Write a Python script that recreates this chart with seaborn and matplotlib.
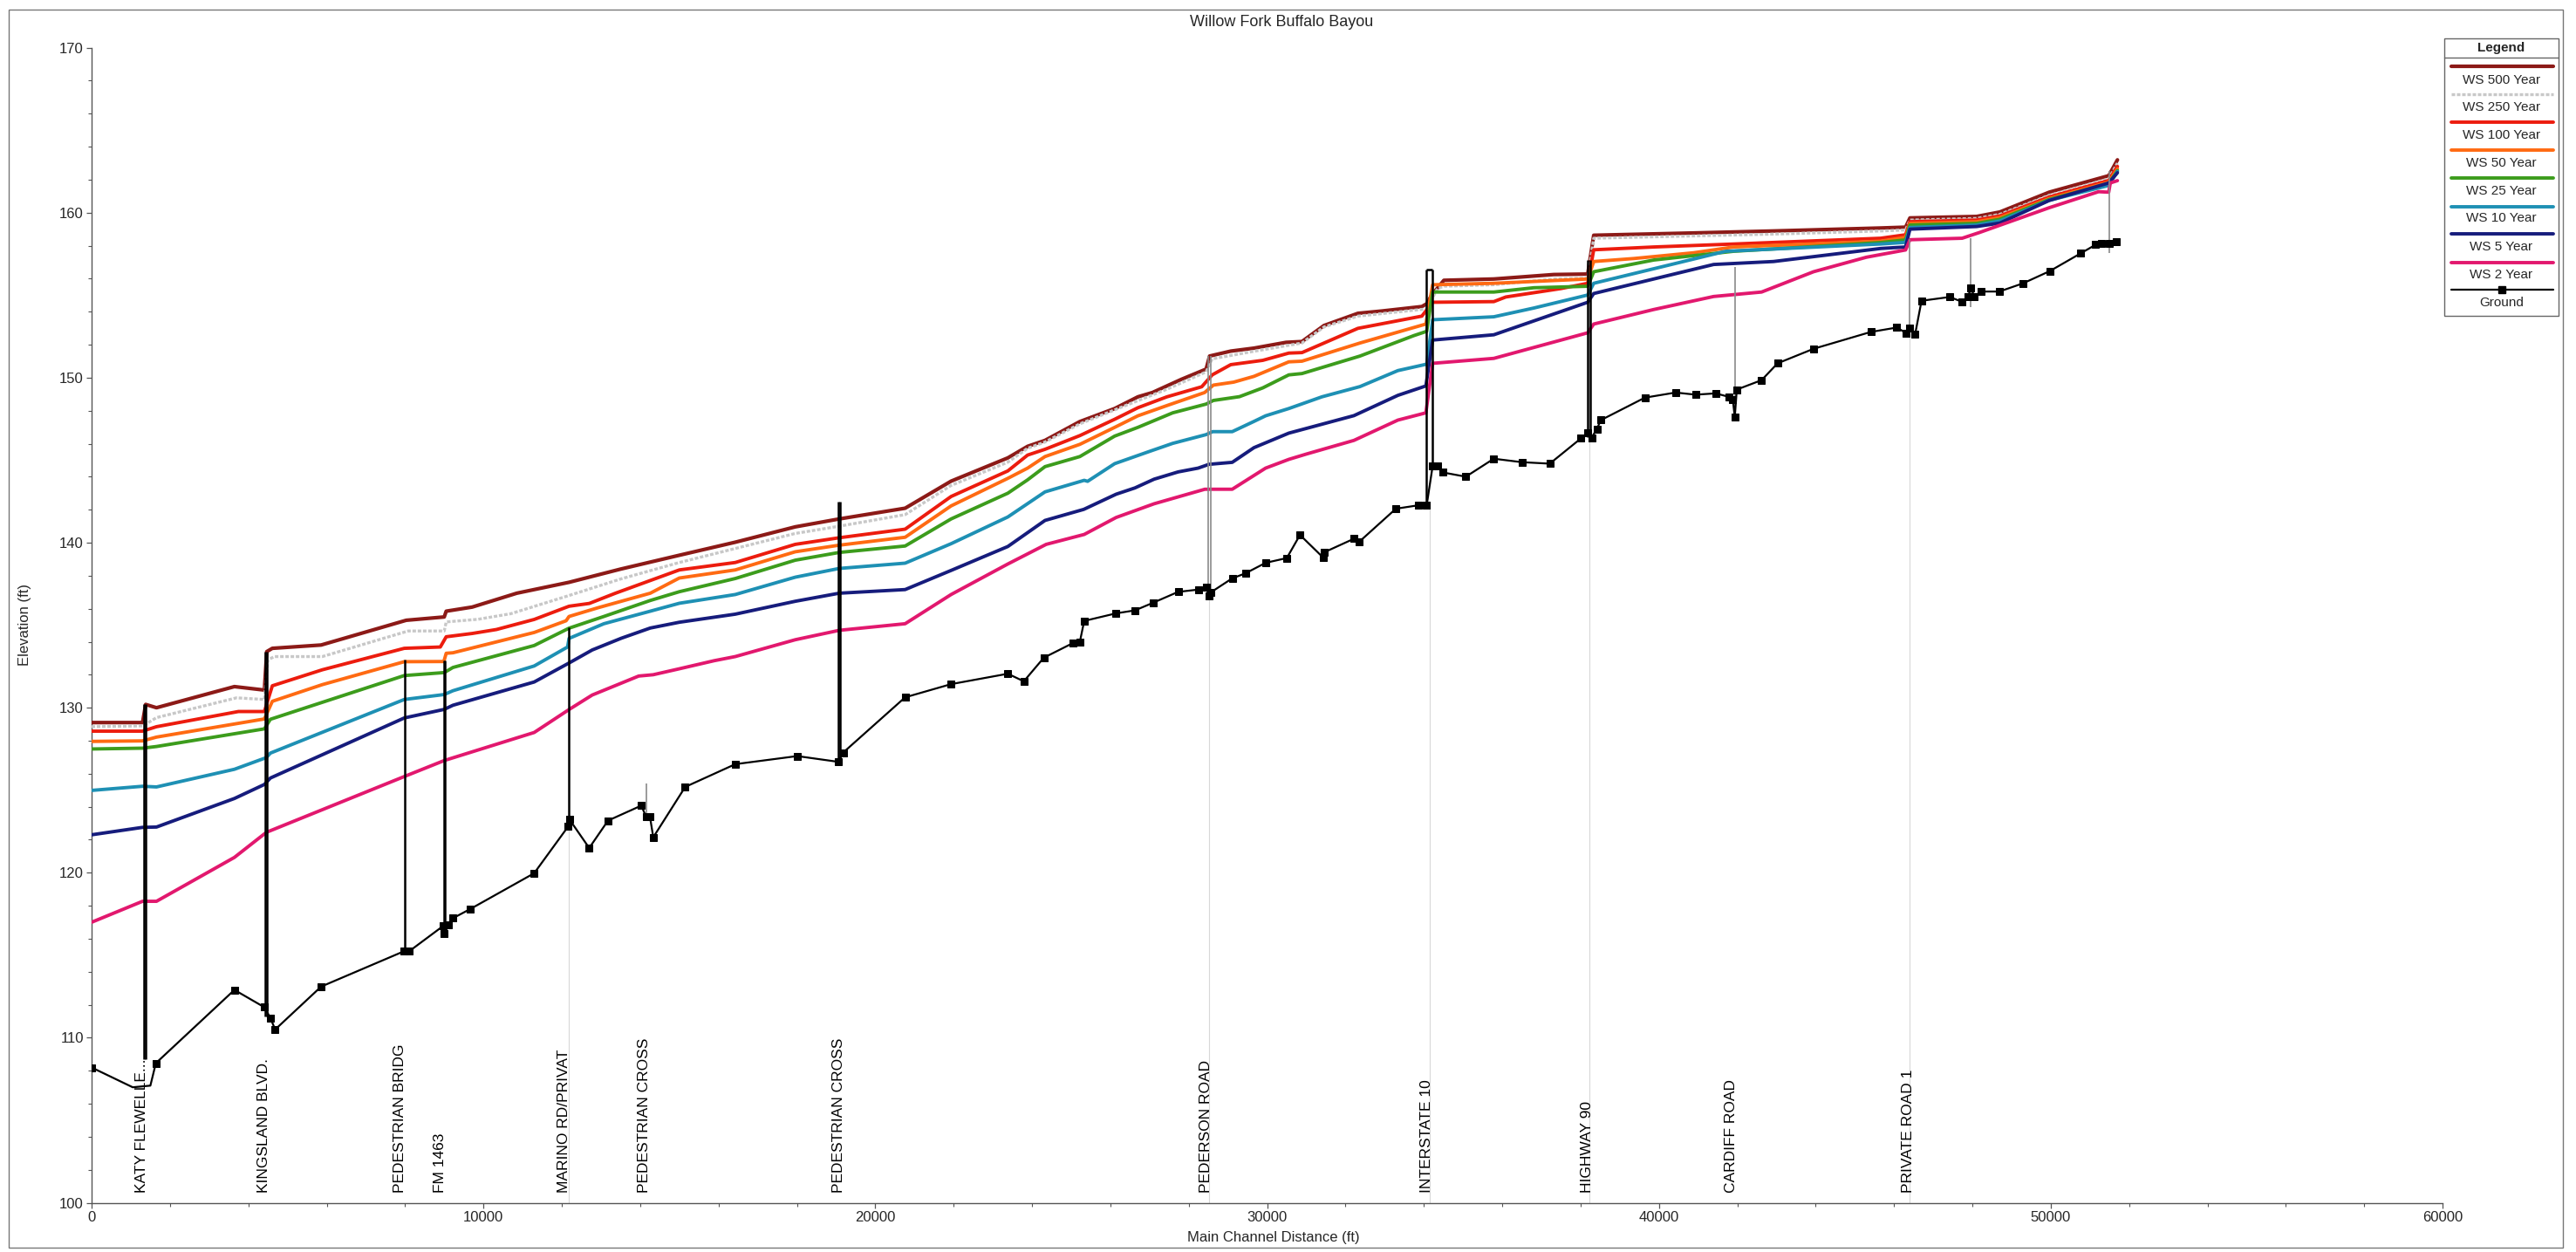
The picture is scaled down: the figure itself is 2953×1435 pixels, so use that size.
import matplotlib
matplotlib.use("Agg")
import matplotlib.pyplot as plt
import seaborn as sns
from matplotlib.lines import Line2D
from matplotlib.patches import Rectangle
from matplotlib.ticker import MultipleLocator

# ---------------- data ----------------
title = "Willow Fork Buffalo Bayou"
x_label = "Main Channel Distance (ft)"
y_label = "Elevation (ft)"

ws500_sta = [0,1300,1380,1656,3645,4410,4470,4613,5858,8030,9000,9050,9714,10852,12185,13500,15000,16428,17958,19080,20763,21936,23384,23889,24333,25222,26111,26704,27074,27814,28444,28533,29074,29666,30483,30891,31452,32319,32931,33951,34074,34200,34512,35787,37317,38184,38337,40887,42927,45660,46296,46407,48110,48703,49962,51481,51703]
ws500_elev = [129.1,129.1,130.2,130.0,131.28,131.07,133.4,133.6,133.8,135.3,135.5,135.85,136.1,136.94,137.6,138.4,139.24,140.03,140.96,141.44,142.09,143.73,145.14,145.84,146.2,147.34,148.13,148.84,149.1,149.9,150.52,151.31,151.61,151.79,152.14,152.19,153.16,153.9,154.04,154.31,154.48,155.0,155.9,155.98,156.25,156.28,158.63,158.77,158.89,159.07,159.12,159.68,159.77,160.04,161.24,162.24,163.2]

ws250_sta = [0,1300,1380,1656,3700,4410,4500,4665,5889,8080,9000,9050,9867,10703,12185,13500,15000,17958,19080,20763,21936,23384,23889,24333,25222,26333,27444,28444,28600,29666,30891,31452,32319,34074,34350,34512,35787,37317,38184,38337,42927,45660,46296,46407,48110,48703,49962,51481,51703]
ws250_elev = [128.85,128.9,129.0,129.4,130.6,130.5,132.9,133.1,133.1,134.65,134.65,135.2,135.36,135.7,136.8,137.8,138.8,140.56,141.0,141.7,143.47,144.88,145.72,146.1,147.2,148.26,149.3,150.35,151.14,151.6,152.1,153.07,153.73,154.17,155.4,155.54,155.63,155.98,156.03,158.45,158.7,158.89,158.95,159.55,159.65,159.9,161.05,162.05,163.0]

ws100_sta = [0,1300,1656,3747,4410,4613,5889,7980,8900,9050,9714,10333,11296,12185,12703,13370,15000,16428,17958,19080,20763,21936,23384,23889,24333,25222,26111,26704,27444,28333,28600,29074,29889,30555,30891,32319,33951,34226,35787,36093,37500,38184,38337,39867,41907,45660,46296,46407,48110,48703,49962,51481,51703]
ws100_elev = [128.58,128.58,128.85,129.77,129.77,131.33,132.3,133.6,133.68,134.3,134.5,134.74,135.35,136.15,136.32,136.94,138.35,138.8,139.9,140.3,140.82,142.8,144.35,145.31,145.66,146.49,147.48,148.18,148.84,149.45,150.17,150.79,151.05,151.49,151.52,152.99,153.73,154.57,154.61,154.89,155.4,155.72,157.75,157.92,158.1,158.45,158.66,159.45,159.55,159.8,160.95,161.95,162.8]

ws50_sta = [0,1300,1656,4410,4613,5889,7980,8990,9050,9222,11296,12110,12185,12926,14259,15000,16428,17958,19080,20763,21936,23384,23889,24333,25222,26111,26704,27444,28407,28630,29148,29666,30555,30891,32370,34053,34226,35787,38184,38337,39357,40887,41907,45660,46296,46407,48110,48703,49962,51481,51703]
ws50_elev = [127.96,127.99,128.22,129.32,130.39,131.4,132.79,132.8,133.3,133.33,134.56,135.27,135.53,136.06,136.94,137.86,138.35,139.45,139.85,140.33,142.23,143.9,144.52,145.22,145.96,146.99,147.69,148.31,149.1,149.55,149.73,150.08,150.96,151.0,152.1,153.25,155.63,155.72,155.98,157.04,157.22,157.57,157.92,158.27,158.5,159.35,159.45,159.7,160.85,161.85,162.65]

ws25_sta = [0,1300,1656,4410,4563,7980,9000,9222,11296,12185,13074,14259,15000,16428,17958,19080,20763,21936,23384,23889,24333,25222,26111,26704,27592,28444,28630,29296,29889,30555,30891,32370,33747,34074,34226,35787,36807,38184,38337,39867,41907,45660,46296,46407,48110,48703,49962,51481,51703]
ws25_elev = [127.5,127.55,127.65,128.72,129.3,131.95,132.13,132.44,133.77,134.82,135.53,136.5,137.03,137.83,138.94,139.41,139.8,141.44,143.0,143.81,144.61,145.22,146.46,146.99,147.87,148.4,148.62,148.85,149.38,150.17,150.25,151.31,152.55,152.81,155.19,155.19,155.45,155.54,156.42,157.13,157.66,158.19,158.35,159.25,159.35,159.6,160.8,161.75,162.55]

ws10_sta = [0,1300,1656,3645,4461,4563,7980,9000,9222,11296,12148,12185,13074,14259,15000,16428,17958,19080,20763,21936,23384,24333,25333,25420,26111,26960,27592,28444,28611,29111,29666,29963,30555,31400,32370,33339,34074,34226,35787,36807,38184,38337,39867,41703,45660,46296,46407,48110,48703,49962,51481,51703]
ws10_elev = [124.99,125.24,125.2,126.27,126.98,127.25,130.5,130.8,131.03,132.53,133.68,134.2,135.09,135.85,136.33,136.86,137.91,138.44,138.76,139.94,141.56,143.08,143.78,143.72,144.79,145.5,146.02,146.55,146.73,146.73,147.35,147.69,148.13,148.84,149.46,150.43,150.82,153.51,153.69,154.22,155.01,155.72,156.6,157.66,158.1,158.2,159.1,159.25,159.5,160.75,161.65,162.5]

ws5_sta = [0,1300,1656,3645,4410,4563,7980,9000,9222,11296,12185,12777,13518,14259,15000,16428,17958,19080,20763,21936,23384,24333,25322,26149,26628,27118,27730,28240,28518,29111,29666,30555,32217,33339,34053,34226,35787,38184,38337,39867,41397,42927,45660,46296,46407,48110,48703,49962,51481,51703]
ws5_elev = [122.3,122.75,122.77,124.5,125.35,125.74,129.38,129.9,130.15,131.56,132.71,133.5,134.21,134.83,135.18,135.67,136.45,136.94,137.16,138.32,139.77,141.35,142.02,142.94,143.32,143.85,144.29,144.52,144.75,144.87,145.76,146.64,147.7,148.93,149.5,152.28,152.6,154.57,155.1,155.98,156.86,157.04,157.83,157.92,159.0,159.16,159.37,160.74,161.8,162.42]

ws2_sta = [0,1300,1656,3645,4461,7980,9000,11296,12185,12777,13963,14333,15000,15889,16428,17958,19080,20763,21936,23384,24363,25333,26149,27118,28413,29111,29963,30555,31000,32217,33339,34053,34226,35787,38184,38337,39867,41397,42621,43947,45296,46296,46407,47740,48185,49962,51222,51481,51520,51703]
ws2_elev = [117.0,118.27,118.27,120.93,122.45,125.83,126.8,128.5,129.89,130.77,131.92,132.0,132.36,132.85,133.1,134.12,134.69,135.09,136.86,138.71,139.9,140.5,141.53,142.36,143.24,143.24,144.52,145.05,145.37,146.2,147.43,147.87,150.87,151.17,152.72,153.25,154.13,154.92,155.19,156.42,157.3,157.74,158.36,158.45,158.8,160.3,161.27,161.24,161.8,161.94]

ground_sta = [0,1050,1500,1640,3645,4410,4563,4685,5858,7980,8110,8970,8990,9100,9225,9663,11295,12162,12190,12700,13180,14030,14150,14250,14335,15150,16428,18009,19060,19180,20763,21936,23384,23792,24302,25047,25222,25333,26148,26630,27100,27730,28250,28444,28518,28570,29111,29444,29963,30504,30840,31432,31450,32217,32340,33288,33870,34074,34226,34359,34481,35073,35787,36501,37215,38010,38184,38286,38418,38520,39643,40428,40938,41448,41785,41887,41937,41988,42621,43029,43947,45407,46074,46318,46407,46540,46703,47422,47725,47888,47962,48050,48222,48688,49296,49977,50762,51148,51296,51500,51666]
ground_elev = [108.2,107.0,107.1,108.46,112.9,111.85,111.2,110.5,113.1,115.25,115.25,116.77,116.3,116.86,117.25,117.8,119.97,122.8,123.25,121.5,123.16,124.07,123.4,123.4,122.15,125.2,126.58,127.07,126.72,127.28,130.63,131.43,132.06,131.6,133.03,133.92,133.99,135.26,135.72,135.9,136.37,137.02,137.16,137.32,136.76,137.0,137.84,138.14,138.78,139.07,140.47,139.1,139.41,140.24,140.03,142.06,142.27,142.27,144.65,144.65,144.26,144.0,145.09,144.88,144.79,146.32,146.64,146.37,146.9,147.43,148.79,149.1,148.97,149.05,148.84,148.67,147.61,149.28,149.85,150.87,151.75,152.77,153.04,152.69,152.99,152.63,154.66,154.89,154.61,154.89,155.45,154.92,155.22,155.22,155.72,156.46,157.53,158.06,158.13,158.13,158.22]
# ground points hidden under the Katy bridge label (no marker drawn there)
ground_unmarked = [1050, 1500]

# bridge structures (station, low elevation, high elevation)
bridge_sta = [1340, 1385, 4440, 4480, 7985, 8990, 9025, 12185, 19060, 19100, 34074, 34226, 38184, 38250]
bridge_low = [108.7, 108.7, 111.3, 111.3, 115.25, 116.3, 116.3, 122.8, 126.72, 126.72, 142.27, 144.65, 146.4, 146.4]
bridge_high = [130.2, 130.2, 133.4, 133.4, 132.93, 132.88, 132.88, 134.88, 142.5, 142.5, 156.55, 156.55, 157.13, 157.13]
deck_sta = [34074, 34226]
deck_elev = 156.55

struct_sta = [14150, 28500, 28560, 41937, 46407, 47962, 51500]
struct_low = [123.4, 136.76, 136.76, 147.61, 152.6, 154.3, 157.57]
struct_high = [125.4, 151.3, 151.3, 156.69, 158.4, 158.45, 162.5]

guide_sta = [12185, 28530, 34150, 38220, 46407]
guide_top = [122.8, 136.76, 142.27, 146.4, 152.6]

station_labels = ["KATY FLEWELLE...", "KINGSLAND BLVD.", "PEDESTRIAN BRIDG", "FM 1463",
                  "MARINO RD/PRIVAT", "PEDESTRIAN CROSS", "PEDESTRIAN CROSS", "PEDERSON ROAD",
                  "INTERSTATE 10", "HIGHWAY 90", "CARDIFF ROAD", "PRIVATE ROAD 1"]
station_label_x = [1270, 4400, 7870, 8900, 12060, 14110, 19060, 28450, 34080, 38180, 41850, 46370]

series_names = ["WS 500 Year", "WS 250 Year", "WS 100 Year", "WS 50 Year", "WS 25 Year",
                "WS 10 Year", "WS 5 Year", "WS 2 Year"]
series_sta = [ws500_sta, ws250_sta, ws100_sta, ws50_sta, ws25_sta, ws10_sta, ws5_sta, ws2_sta]
series_elev = [ws500_elev, ws250_elev, ws100_elev, ws50_elev, ws25_elev, ws10_elev, ws5_elev, ws2_elev]
series_colors = ["#8c1a17", "#c8c8c8", "#ec1c0e", "#ff6a12", "#3c9c1c", "#1e90b4", "#161c7c", "#e2186e"]
series_dash = ["-", (0, (1.2, 0.6)), "-", "-", "-", "-", "-", "-"]
series_lw = [3.0, 2.4, 2.8, 2.8, 2.8, 2.8, 2.8, 2.8]

# ---------------- figure ----------------
sns.set_theme(style="white")
narrow = ["Liberation Sans Narrow", "Liberation Sans", "DejaVu Sans"]
plt.rcParams["font.family"] = narrow

W, H = 2953, 1435
fig = plt.figure(figsize=(W / 100, H / 100), dpi=100)
fig.patch.set_facecolor("white")
ax = fig.add_axes([105 / W, 1 - 1378.6 / H, 2695 / W, (1378.6 - 54.6) / H])
ax.set_facecolor("white")

# faint guide lines from axis up to ground at bridges
ax.vlines(guide_sta, [100] * len(guide_sta), guide_top, colors="#d8d8d8", lw=0.8, zorder=1)

for name, xs, ys, c, ls, lw in zip(series_names, series_sta, series_elev, series_colors, series_dash, series_lw):
    sns.lineplot(x=xs, y=ys, ax=ax, color=c, lw=lw, linestyle=ls, estimator=None,
                 sort=False, legend=False, zorder=3)

# structures
ax.vlines(struct_sta, struct_low, struct_high, colors="#8a8a8a", lw=1.2, zorder=4)
ax.vlines(bridge_sta, bridge_low, bridge_high, colors="black", lw=1.8, zorder=5)
ax.hlines([deck_elev], deck_sta[0], deck_sta[1], colors="black", lw=1.8, zorder=5)

marked = [i for i, s in enumerate(ground_sta) if s not in ground_unmarked]
sns.lineplot(x=ground_sta, y=ground_elev, ax=ax, color="black", lw=1.6, marker="s",
             markersize=5.5, markeredgecolor="black", markevery=marked, estimator=None,
             sort=False, legend=False, zorder=6)

ax.set_xlim(0, 60000)
ax.set_ylim(100, 170)
ax.xaxis.set_major_locator(MultipleLocator(10000))
ax.xaxis.set_minor_locator(MultipleLocator(2000))
ax.yaxis.set_major_locator(MultipleLocator(10))
ax.yaxis.set_minor_locator(MultipleLocator(2))
ax.set_xlabel("")
ax.set_ylabel("")
for s in ["top", "right"]:
    ax.spines[s].set_visible(False)
for s in ["left", "bottom"]:
    ax.spines[s].set_color("#555555")
    ax.spines[s].set_linewidth(1.0)
ax.tick_params(axis="both", which="major", direction="out", length=4.5, width=0.9,
               color="#555555", labelsize=12, pad=2, left=True, bottom=True)
ax.tick_params(axis="both", which="minor", direction="out", length=3, width=0.8,
               color="#555555", left=True, bottom=True)
ax.grid(False)

for lab, xs in zip(station_labels, station_label_x):
    ax.text(xs, 100.6, lab, rotation=90, ha="center", va="bottom", fontsize=12.5,
            family=["Liberation Sans", "DejaVu Sans"], color="black", zorder=7)

fig.text(1469 / W, 1 - 25 / H, title, ha="center", va="center", fontsize=13,
         family=["Liberation Sans", "DejaVu Sans"])
fig.text(1460 / W, 1 - 1418 / H, x_label, ha="center", va="center", fontsize=12)
fig.text(28 / W, 1 - 716 / H, y_label, ha="center", va="center", rotation=90, fontsize=12)

# outer frame
fig.add_artist(Rectangle((10 / W, 1 - 1430 / H), 2928 / W, 1419 / H, transform=fig.transFigure,
                         fill=False, ec="#777777", lw=1.0))

# legend box (HEC-RAS style)
lx0, lx1 = 2802 / W, 2933 / W
ly_top, ly_bot = 1 - 44 / H, 1 - 362 / H
fig.add_artist(Rectangle((lx0, ly_bot), lx1 - lx0, ly_top - ly_bot, transform=fig.transFigure,
                         fill=True, fc="white", ec="#666666", lw=1.0, zorder=10))
fig.add_artist(Line2D([lx0, lx1], [1 - 66 / H] * 2, transform=fig.transFigure, color="#666666", lw=1.0, zorder=11))
lxc = (lx0 + lx1) / 2
fig.text(lxc, 1 - 55 / H, "Legend", ha="center", va="center", fontsize=11, fontweight="bold",
         family=["Liberation Sans", "DejaVu Sans"], zorder=11)
line_y = [75.7, 108, 140, 172, 204, 237, 268, 301, 332]
text_y = [91.7, 123, 155, 187, 219, 250, 283, 315, 347]
sx0, sx1 = 2810 / W, 2927 / W
for i, name in enumerate(series_names + ["Ground"]):
    yl = 1 - line_y[i] / H
    if i < len(series_names):
        fig.add_artist(Line2D([sx0, sx1], [yl, yl], transform=fig.transFigure, color=series_colors[i],
                              lw=series_lw[i], linestyle=series_dash[i], zorder=11))
    else:
        fig.add_artist(Line2D([sx0, sx1], [yl, yl], transform=fig.transFigure, color="black", lw=1.6, zorder=11))
        fig.add_artist(Line2D([lxc], [yl], transform=fig.transFigure, color="black", marker="s",
                              markersize=5.5, zorder=12))
    fig.text(lxc, 1 - text_y[i] / H, name, ha="center", va="center", fontsize=11,
             family=["Liberation Sans", "DejaVu Sans"], zorder=11)

fig.savefig("out.png", dpi=100, facecolor="white")
